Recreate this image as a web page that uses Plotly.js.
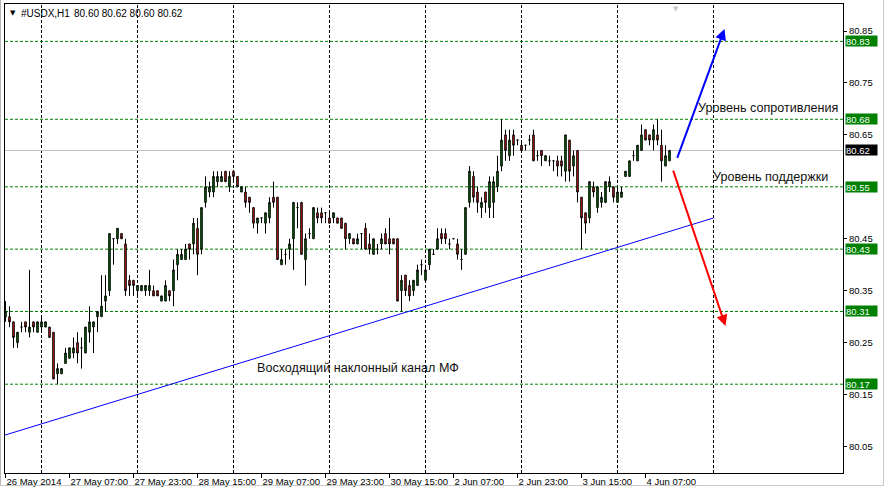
<!DOCTYPE html>
<html>
<head>
<meta charset="utf-8">
<script src="https://cdn.plot.ly/plotly-3.0.1.min.js"></script>
<style>
  html, body { margin: 0; padding: 0; background: #ffffff; }
  #chart { width: 886px; height: 493px; position: absolute; left: 0; top: 0; }
  #frame { position: absolute; left: 0; top: 0; width: 882px; height: 485px;
           border-left: 1px solid #b8b8b8; border-right: 1px solid #c8c8c8; border-bottom: 1px solid #c8c8c8;
           pointer-events: none; }
</style>
</head>
<body>
<div id="chart"></div>
<div id="frame"></div>
<script>
// ---- data (hourly bars, #USDX H1) ----
const openP = [
  80.30,80.30,80.29,80.25,80.28,80.29,80.27,80.29,80.27,80.28,
  80.28,80.28,80.27,80.19,80.19,80.21,80.22,80.23,80.25,80.24,
  80.23,80.27,80.28,80.30,80.30,80.33,80.35,80.45,80.45,80.46,
  80.44,80.37,80.37,80.35,80.35,80.35,80.35,80.35,80.35,80.33,
  80.33,80.35,80.35,80.40,80.41,80.41,80.44,80.44,80.47,80.43,
  80.52,80.54,80.54,80.56,80.56,80.58,80.55,80.58,80.57,80.54,
  80.54,80.53,80.51,80.48,80.49,80.48,80.49,80.53,80.53,80.40,
  80.42,80.43,80.45,80.51,80.52,80.41,80.46,80.45,80.50,80.50,
  80.50,80.49,80.49,80.49,80.49,80.48,80.45,80.45,80.44,80.46,
  80.47,80.44,80.42,80.43,80.44,80.46,80.45,80.45,80.45,80.35,
  80.38,80.36,80.35,80.36,80.40,80.37,80.40,80.42,80.43,80.46,
  80.46,80.44,80.45,80.44,80.41,80.42,80.52,80.57,80.54,80.51,
  80.54,80.51,80.52,80.55,80.59,80.65,80.61,80.65,80.64,80.63,
  80.63,80.64,80.65,80.61,80.62,80.60,80.60,80.60,80.60,80.60,
  80.58,80.64,80.59,80.62,80.53,80.50,80.49,80.55,80.51,80.52,
  80.52,80.55,80.55,80.52,80.53,80.57,80.57,80.61,80.60,80.62,
  80.66,80.65,80.64,80.65,80.63,80.59,80.60
];
const highP = [
  80.33,80.32,80.29,80.27,80.29,80.29,80.39,80.29,80.29,80.30,
  80.29,80.28,80.27,80.21,80.20,80.24,80.24,80.26,80.27,80.26,
  80.28,80.32,80.29,80.31,80.38,80.38,80.46,80.45,80.47,80.46,
  80.45,80.38,80.37,80.36,80.36,80.36,80.39,80.36,80.35,80.34,
  80.37,80.35,80.41,80.43,80.43,80.44,80.44,80.49,80.49,80.51,
  80.57,80.56,80.58,80.58,80.58,80.58,80.58,80.58,80.57,80.55,
  80.55,80.53,80.51,80.49,80.49,80.50,80.53,80.56,80.53,80.43,
  80.43,80.45,80.52,80.52,80.52,80.46,80.47,80.51,80.51,80.51,
  80.50,80.50,80.50,80.49,80.49,80.48,80.46,80.45,80.46,80.46,
  80.48,80.46,80.45,80.44,80.46,80.47,80.49,80.45,80.45,80.38,
  80.38,80.37,80.37,80.40,80.41,80.40,80.43,80.43,80.47,80.47,
  80.47,80.45,80.45,80.45,80.43,80.51,80.59,80.58,80.55,80.53,
  80.54,80.57,80.57,80.61,80.68,80.66,80.66,80.66,80.64,80.64,
  80.63,80.65,80.66,80.62,80.62,80.61,80.61,80.60,80.61,80.61,
  80.65,80.64,80.62,80.62,80.53,80.50,80.56,80.56,80.55,80.54,
  80.56,80.57,80.55,80.55,80.55,80.58,80.60,80.62,80.63,80.67,
  80.66,80.65,80.67,80.68,80.66,80.63,80.62
];
const lowP = [
  80.29,80.28,80.24,80.24,80.27,80.27,80.26,80.27,80.27,80.27,
  80.28,80.26,80.18,80.17,80.19,80.21,80.22,80.22,80.21,80.20,
  80.23,80.25,80.23,80.27,80.30,80.31,80.34,80.40,80.44,80.45,
  80.34,80.34,80.34,80.34,80.35,80.34,80.34,80.34,80.34,80.33,
  80.33,80.33,80.32,80.37,80.41,80.41,80.41,80.42,80.38,80.42,
  80.51,80.53,80.53,80.55,80.56,80.56,80.54,80.56,80.55,80.54,
  80.51,80.50,80.47,80.46,80.48,80.46,80.48,80.51,80.41,80.40,
  80.40,80.41,80.39,80.47,80.42,80.36,80.45,80.45,80.48,80.48,
  80.48,80.48,80.48,80.48,80.47,80.43,80.44,80.44,80.44,80.43,
  80.43,80.42,80.42,80.42,80.43,80.44,80.42,80.44,80.33,80.31,
  80.34,80.33,80.34,80.36,80.38,80.37,80.39,80.42,80.43,80.44,
  80.44,80.43,80.45,80.41,80.39,80.42,80.51,80.52,80.50,80.49,
  80.50,80.49,80.49,80.54,80.58,80.60,80.60,80.61,80.63,80.62,
  80.62,80.63,80.60,80.60,80.59,80.60,80.59,80.58,80.57,80.57,
  80.56,80.56,80.57,80.52,80.43,80.46,80.48,80.53,80.50,80.51,
  80.52,80.54,80.52,80.52,80.53,80.57,80.57,80.60,80.60,80.62,
  80.64,80.63,80.62,80.63,80.56,80.59,80.60
];
const closeP = [
  80.31,80.29,80.26,80.27,80.28,80.28,80.28,80.28,80.29,80.29,
  80.29,80.26,80.18,80.20,80.20,80.23,80.24,80.24,80.23,80.24,
  80.28,80.29,80.29,80.31,80.32,80.34,80.46,80.45,80.47,80.45,
  80.35,80.36,80.36,80.36,80.36,80.36,80.36,80.34,80.34,80.34,
  80.36,80.34,80.39,80.42,80.42,80.43,80.43,80.48,80.42,80.51,
  80.55,80.55,80.57,80.57,80.57,80.56,80.57,80.57,80.55,80.55,
  80.52,80.52,80.48,80.49,80.49,80.50,80.52,80.52,80.41,80.41,
  80.42,80.44,80.52,80.51,80.42,80.45,80.46,80.51,80.49,80.49,
  80.50,80.48,80.50,80.48,80.47,80.45,80.46,80.44,80.45,80.46,
  80.43,80.43,80.45,80.43,80.45,80.44,80.44,80.44,80.33,80.37,
  80.35,80.34,80.37,80.39,80.40,80.39,80.43,80.42,80.45,80.45,
  80.45,80.44,80.45,80.42,80.41,80.51,80.58,80.53,80.52,80.52,
  80.52,80.56,80.56,80.58,80.64,80.62,80.64,80.63,80.64,80.62,
  80.63,80.64,80.60,80.61,80.61,80.61,80.60,80.60,80.59,80.59,
  80.65,80.58,80.61,80.54,80.49,80.48,80.56,80.54,80.55,80.53,
  80.56,80.56,80.53,80.54,80.54,80.58,80.60,80.61,80.63,80.65,
  80.64,80.64,80.66,80.64,80.60,80.61,80.62
];
const tickBars = [0,16,32,48,64,80,96,112,128,144,160];
const tickLabels = ['26 May 2014','27 May 07:00','27 May 23:00','28 May 15:00','29 May 07:00',
                    '29 May 23:00','30 May 15:00','2 Jun 07:00','2 Jun 23:00','3 Jun 15:00','4 Jun 07:00'];
const priceTicks = [80.05,80.15,80.25,80.35,80.45,80.65,80.75,80.85];
const levelValues = [80.83,80.68,80.55,80.43,80.31,80.17];
const bidPrice = 80.62;
const trendX = [-0.125, 177];
const trendY = [80.072, 80.490];
const upArrowX = [167.8, 179.75];
const upArrowY = [80.603, 80.854];
const downArrowX = [166.8, 180.0];
const downArrowY = [80.584, 80.282];
const headerSymbol = '#USDX,H1';
const headerPrices = '80.60 80.62 80.60 80.62';

// ---- build ----
const barIdx = openP.map((_, i) => i);
const FONT = 'Liberation Sans, Arial, sans-serif';

const candle = {
  type: 'candlestick',
  x: barIdx, open: openP, high: highP, low: lowP, close: closeP,
  increasing: { line: { color: '#000000', width: 1 }, fillcolor: '#008000' },
  decreasing: { line: { color: '#000000', width: 1 }, fillcolor: '#e81c1c' },
  whiskerwidth: 0,
  hoverinfo: 'skip'
};
const trend = {
  type: 'scatter', mode: 'lines', x: trendX, y: trendY,
  line: { color: '#0000ff', width: 1 }, hoverinfo: 'skip'
};

const shapes = [];
// vertical dashed grid every 24 bars
for (let g = 9; g <= 177; g += 24) {
  shapes.push({ type: 'line', xref: 'x', yref: 'paper', x0: g, x1: g, y0: 0, y1: 1,
    line: { color: '#000000', width: 1, dash: '3px,2px' }, layer: 'below' });
}
levelValues.forEach(v => shapes.push({ type: 'line', xref: 'paper', yref: 'y', x0: 0, x1: 1, y0: v, y1: v,
  line: { color: '#008000', width: 1, dash: '3px,2px' }, layer: 'below' }));
shapes.push({ type: 'line', xref: 'paper', yref: 'y', x0: 0, x1: 1, y0: bidPrice, y1: bidPrice,
  line: { color: '#c0c0c0', width: 1 }, layer: 'below' });

const ann = [];
levelValues.forEach(v => ann.push({ xref: 'paper', yref: 'y', x: 1, y: v, xanchor: 'left', yanchor: 'middle',
  xshift: 2, text: v.toFixed(2), showarrow: false, bgcolor: '#008000', borderpad: 0,
  width: 31, height: 10, align: 'left', font: { family: FONT, size: 9.5, color: '#f4fff8' } }));
ann.push({ xref: 'paper', yref: 'y', x: 1, y: bidPrice, xanchor: 'left', yanchor: 'middle',
  xshift: 2, text: bidPrice.toFixed(2), showarrow: false, bgcolor: '#000000', borderpad: 0,
  width: 31, height: 10, align: 'left', font: { family: FONT, size: 9.5, color: '#ffffff' } });
// header
ann.push({ xref: 'paper', yref: 'paper', x: 0, y: 1, xanchor: 'left', yanchor: 'middle', xshift: 3, yshift: -9,
  text: '\u25BC', showarrow: false, font: { family: 'DejaVu Sans', size: 7, color: '#000000' } });
ann.push({ xref: 'paper', yref: 'paper', x: 0, y: 1, xanchor: 'left', yanchor: 'middle', xshift: 14, yshift: -9,
  text: headerSymbol, showarrow: false, font: { family: FONT, size: 10, color: '#000000' } });
ann.push({ xref: 'paper', yref: 'paper', x: 0, y: 1, xanchor: 'left', yanchor: 'middle', xshift: 67, yshift: -9,
  text: headerPrices, showarrow: false, font: { family: FONT, size: 10, color: '#000000' } });
// chart shift marker
ann.push({ xref: 'x', yref: 'paper', x: 167.6, y: 1, xanchor: 'center', yanchor: 'top', yshift: 1,
  text: '\u25BC', showarrow: false, font: { family: 'DejaVu Sans', size: 7, color: '#c8c8c8' } });
// text labels
ann.push({ xref: 'x', yref: 'y', x: 172.5, y: 80.702, xanchor: 'left', yanchor: 'middle',
  text: 'Уровень сопротивления', showarrow: false, font: { family: FONT, size: 12.6, color: '#111111' } });
ann.push({ xref: 'x', yref: 'y', x: 176.3, y: 80.569, xanchor: 'left', yanchor: 'middle',
  text: 'Уровень поддержки', showarrow: false, font: { family: FONT, size: 12.6, color: '#111111' } });
ann.push({ xref: 'x', yref: 'y', x: 62.3, y: 80.201, xanchor: 'left', yanchor: 'middle',
  text: 'Восходящий наклонный канал МФ', showarrow: false, font: { family: FONT, size: 12.6, color: '#111111' } });
// arrows
ann.push({ xref: 'x', yref: 'y', axref: 'x', ayref: 'y', x: upArrowX[1], y: upArrowY[1], ax: upArrowX[0], ay: upArrowY[0],
  text: '', showarrow: true, arrowhead: 2, arrowsize: 1.1, arrowwidth: 2, arrowcolor: '#0000ff', standoff: 0, startstandoff: 0 });
ann.push({ xref: 'x', yref: 'y', axref: 'x', ayref: 'y', x: downArrowX[1], y: downArrowY[1], ax: downArrowX[0], ay: downArrowY[0],
  text: '', showarrow: true, arrowhead: 2, arrowsize: 1.1, arrowwidth: 2, arrowcolor: '#ff0000', standoff: 0, startstandoff: 0 });

const layout = {
  width: 886, height: 493,
  margin: { l: 5, r: 43, t: 4, b: 20, pad: 0 },
  paper_bgcolor: '#ffffff', plot_bgcolor: '#ffffff',
  showlegend: false,
  boxgap: 0.45,
  font: { family: FONT, size: 9.5, color: '#000000' },
  xaxis: {
    range: [-0.125, 209.375], showgrid: false, zeroline: false, automargin: false,
    showline: true, mirror: true, linecolor: '#000000', linewidth: 1,
    ticks: 'outside', ticklen: 4, tickcolor: '#000000', tickwidth: 1,
    tickvals: tickBars, ticktext: tickLabels, ticklabelposition: 'outside right', tickangle: 0,
    tickfont: { family: FONT, size: 9.5, color: '#000000' },
    rangeslider: { visible: false }, fixedrange: true
  },
  yaxis: {
    side: 'right', range: [79.999, 80.902], showgrid: false, zeroline: false, automargin: false,
    showline: true, mirror: true, linecolor: '#000000', linewidth: 1,
    ticks: 'outside', ticklen: 3, tickcolor: '#000000', tickwidth: 1,
    tickvals: priceTicks, tickformat: '.2f',
    tickfont: { family: FONT, size: 9.5, color: '#000000' }, fixedrange: true
  },
  shapes: shapes,
  annotations: ann
};

Plotly.newPlot('chart', [candle, trend], layout, { staticPlot: true, displayModeBar: false });
</script>
</body>
</html>
